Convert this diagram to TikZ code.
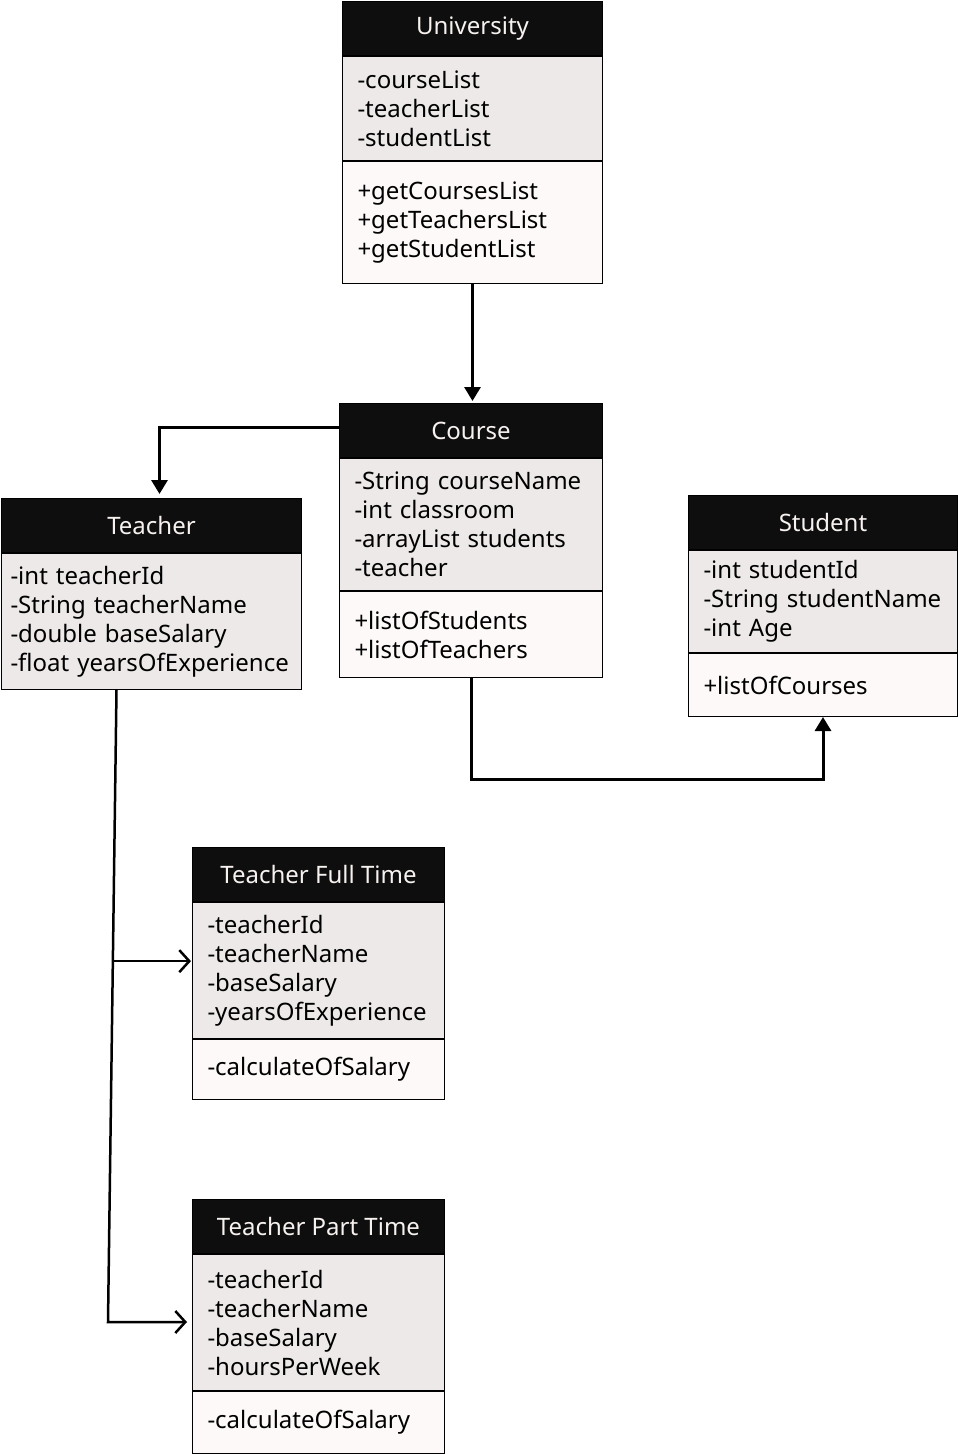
\documentclass[tikz,border=0pt]{standalone}
\usepackage{fontspec}
\setmainfont{Noto Sans}
\usetikzlibrary{arrows.meta,calc,positioning}
\definecolor{headblack}{HTML}{0E0E0E}
\definecolor{headtext}{HTML}{F7F2F0}
\definecolor{attrgray}{HTML}{ECE9E8}
\definecolor{opwhite}{HTML}{FCF9F8}

\begin{document}
\begin{tikzpicture}[x=1pt,y=-1pt,
    font=\fontsize{24}{29}\selectfont,
    head/.style={draw=black,line width=1pt,fill=headblack,text=headtext,anchor=north west,minimum height=54pt,inner sep=0pt},
    attrs/.style={draw=black,line width=1pt,fill=attrgray,anchor=north west,align=left,inner ysep=0pt,inner xsep=15pt},
    ops/.style={draw=black,line width=1pt,fill=opwhite,anchor=north west,align=left,inner ysep=0pt,inner xsep=15pt},
    assoc/.style={line width=3pt,-{Triangle[length=14pt,width=16pt]}},
    inherit/.style={line width=2.5pt,-{Straight Barb[length=10pt,width=22pt]}}
]
    \useasboundingbox (0,0) rectangle (958,1454);

    % University
    \node[head,minimum width=260pt] (uni) at (342,1) {University};
    \node[attrs,text width=230pt,minimum height=104pt] (uniA) at (uni.south west)
        {-courseList\\-teacherList\\-studentList};
    \node[ops,text width=230pt,minimum height=122pt] (uniM) at (uniA.south west)
        {+getCoursesList\\+getTeachersList\\+getStudentList};

    % Course
    \node[head,minimum width=263pt] (course) at (339,403) {Course};
    \node[attrs,text width=233pt,minimum height=132pt] (courseA) at (course.south west)
        {-String courseName\\-int classroom\\-arrayList students\\-teacher};
    \node[ops,text width=233pt,minimum height=86pt] (courseM) at (courseA.south west)
        {+listOfStudents\\+listOfTeachers};

    % Teacher
    \node[head,minimum width=300pt] (teacher) at (1,498) {Teacher};
    \node[attrs,inner xsep=9pt,text width=282pt,minimum height=136pt] (teacherA) at (teacher.south west)
        {-int teacherId\\-String teacherName\\-double baseSalary\\-float yearsOfExperience};

    % Student
    \node[head,minimum width=269pt] (student) at (688,495) {Student};
    \node[attrs,text width=239pt,minimum height=102pt] (studentA) at (student.south west)
        {-int studentId\\-String studentName\\-int Age};
    \node[ops,text width=239pt,minimum height=63pt] (studentM) at (studentA.south west)
        {+listOfCourses};

    % Teacher Full Time
    \node[head,minimum width=252pt] (fullT) at (192,847) {Teacher Full Time};
    \node[attrs,text width=222pt,minimum height=136pt] (fullA) at (fullT.south west)
        {-teacherId\\-teacherName\\-baseSalary\\-yearsOfExperience};
    \node[ops,text width=222pt,minimum height=60pt] (fullM) at (fullA.south west)
        {-calculateOfSalary};

    % Teacher Part Time
    \node[head,minimum width=252pt] (partT) at (192,1199) {Teacher Part Time};
    \node[attrs,text width=222pt,minimum height=136pt] (partA) at (partT.south west)
        {-teacherId\\-teacherName\\-baseSalary\\-hoursPerWeek};
    \node[ops,text width=222pt,minimum height=62pt] (partM) at (partA.south west)
        {-calculateOfSalary};

    % associations
    \draw[assoc,shorten >=2pt] (uniM.south) -- (uniM.south |- course.north);
    \draw[assoc,shorten >=4pt] ([yshift=3pt]course.west) -| ([xshift=8pt]teacher.north);
    \draw[assoc] (courseM.south) -- ++(0,101) -| (studentM.south);

    % inheritance
    \coordinate (tstart) at ([xshift=-35pt]teacherA.south);
    \coordinate (tbend) at (108,1322);
    \coordinate (tbranch) at ($(tstart)!0.429!(tbend)$);
    \draw[inherit,shorten >=5pt] (tstart) -- (tbend) -- (tbend -| partA.west);
    \draw[inherit,shorten >=1pt] (tbranch) -- (tbranch -| fullA.west);
\end{tikzpicture}
\end{document}
